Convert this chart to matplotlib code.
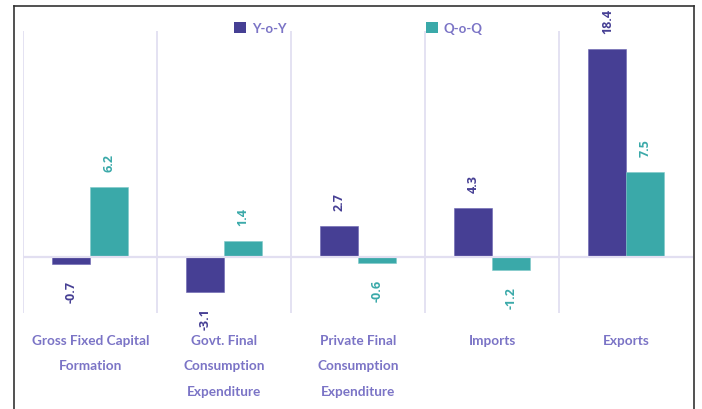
import matplotlib
matplotlib.use("Agg")
import matplotlib.pyplot as plt
import numpy as np
from matplotlib.patches import Patch
from matplotlib.lines import Line2D

categories = ["Gross Fixed Capital\nFormation", "Govt. Final\nConsumption\nExpenditure",
              "Private Final\nConsumption\nExpenditure", "Imports", "Exports"]
yoy = [-0.7, -3.1, 2.7, 4.3, 18.4]
qoq = [6.2, 1.4, -0.6, -1.2, 7.5]
series_names = ["Y-o-Y", "Q-o-Q"]

c_yoy = "#463F94"
c_qoq = "#3AA9A9"
c_text = "#7B74C6"
c_grid = "#E2DFF1"

plt.rcParams['font.family'] = ['Lato', 'DejaVu Sans']

fig = plt.figure(figsize=(7.02, 4.10), dpi=100)
ax = fig.add_axes([23.3/702, 96/410, 670/702, 282/410])

x = np.arange(len(categories))
w = 0.283
b1 = ax.bar(x - w/2, yoy, w, color=c_yoy, zorder=2, edgecolor="#6a64b0", linewidth=0.4)
b2 = ax.bar(x + w/2, qoq, w, color=c_qoq, zorder=2, edgecolor="#7fcaca", linewidth=0.4)

for bars, vals, col in [(b1, yoy, c_yoy), (b2, qoq, c_qoq)]:
    for r, v in zip(bars, vals):
        xc = r.get_x() + r.get_width()/2
        off = 11.5 if v >= 0 else -11.5
        ax.annotate(f"{v}", (xc, v), xytext=(0, off), textcoords="offset points",
                    rotation=90, ha="center", va="bottom" if v >= 0 else "top", color=col,
                    fontsize=9, fontweight="bold", family=["Open Sans", "DejaVu Sans"])

ax.axhline(0, color=c_grid, lw=1.6, zorder=3)
for s in np.arange(-0.5, len(categories) - 0.5, 1.0):
    ax.axvline(s, color=c_grid, lw=1.3, zorder=1)

ax.set_xlim(-0.5, len(categories) - 0.5)
ax.set_ylim(-5.0, 20.0)
ax.set_yticks([])
ax.set_xticks(x)
ax.set_xticklabels([])
ax.tick_params(length=0)
for sp in ax.spines.values():
    sp.set_visible(False)

for xi, cat in zip(x, categories):
    lines = cat.split("\n")
    for k, ln in enumerate(lines):
        ax.annotate(ln, (xi, 0), xycoords=("data", "axes fraction"),
                    xytext=(0, -(19.5 + k*18.2)), textcoords="offset points",
                    ha="center", va="center", color=c_text, fontsize=9.8, fontweight="bold")

handles = [Patch(facecolor=c_yoy, edgecolor="none"), Patch(facecolor=c_qoq, edgecolor="none")]
leg = ax.legend(handles, series_names, loc="center", bbox_to_anchor=(0.5, 1.01), ncol=2,
                frameon=False, handlelength=0.9, handleheight=0.9, handletextpad=0.4,
                columnspacing=10.6, prop={"weight": "bold", "size": 9.5})
for t in leg.get_texts():
    t.set_color(c_text)

# outer frame
bc = "#333333"
fig.add_artist(Line2D([13.5/702, 13.5/702], [0, 403/410], transform=fig.transFigure, color=bc, lw=1.2))
fig.add_artist(Line2D([693.5/702, 693.5/702], [0, 403/410], transform=fig.transFigure, color=bc, lw=1.2))
fig.add_artist(Line2D([13.5/702, 693.5/702], [403/410, 403/410], transform=fig.transFigure, color=bc, lw=1.2))

fig.savefig("out.png", dpi=100)
